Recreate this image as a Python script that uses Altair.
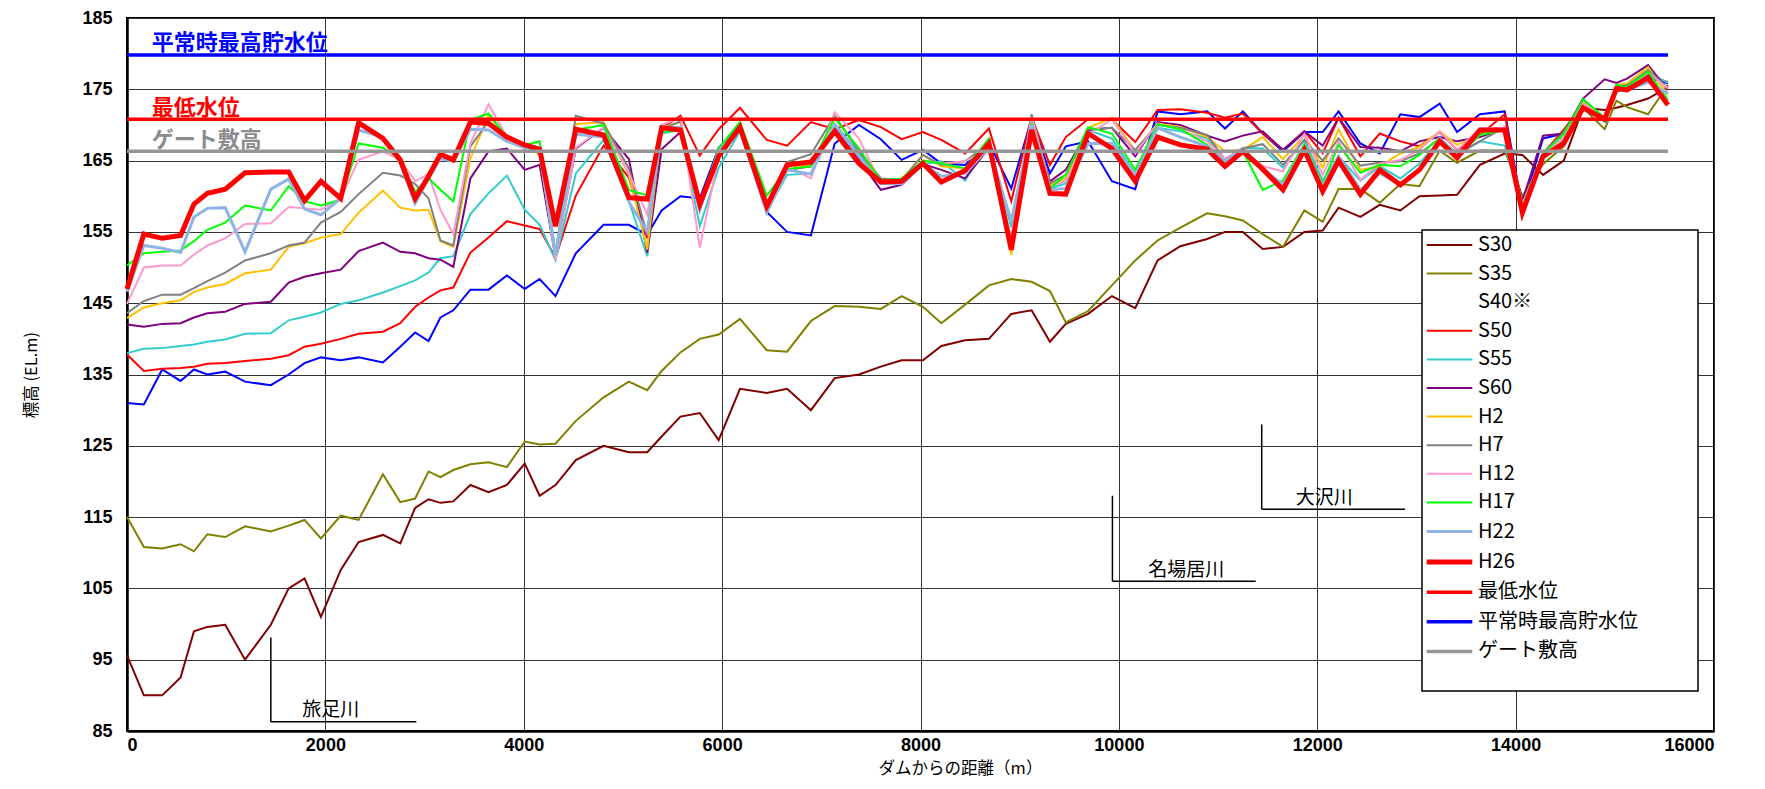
import altair as alt
import pandas as pd

FONT = "Noto Sans CJK JP"
NUM_FONT = "Liberation Sans"

# distance from the dam (m)
DIST = [0, 170, 355, 540, 675, 810, 990, 1190, 1450, 1630,
        1790, 1955, 2155, 2335, 2580, 2755, 2905, 3040, 3160, 3290,
        3462, 3645, 3830, 4010, 4160, 4320, 4525, 4805, 5060, 5245,
        5390, 5580, 5775, 5965, 6180, 6450, 6655, 6895, 7135, 7380,
        7600, 7810, 8025, 8210, 8450, 8690, 8915, 9120, 9305, 9465,
        9690, 9930, 10165, 10390, 10620, 10890, 11070, 11250, 11450, 11655,
        11870, 12055, 12215, 12435, 12630, 12838, 13030, 13235, 13410, 13640,
        13890, 14068, 14276, 14485, 14680, 14898, 15016, 15123, 15335, 15536]

S30 = [95.6, 90.0, 90.0, 92.5, 99.0, 99.6, 99.9, 95.0, 99.9, 105.0,
       106.4, 101.0, 107.6, 111.5, 112.5, 111.3, 116.3, 117.5, 117.0, 117.2,
       119.5, 118.5, 119.5, 122.5, 118.0, 119.5, 123.0, 125.0, 124.1, 124.1,
       126.3, 129.1, 129.6, 125.8, 133.0, 132.4, 133.0, 130.0, 134.5, 135.0,
       136.1, 137.0, 137.0, 139.0, 139.8, 140.0, 143.5, 144.0, 139.6, 142.1,
       143.5, 146.0, 144.3, 151.0, 153.0, 154.0, 155.0, 155.0, 152.6, 152.9,
       155.0, 155.2, 158.4, 157.1, 158.8, 158.0, 160.0, 160.1, 160.2, 164.4,
       166.0, 165.8, 163.0, 165.0, 172.4, 172.1, 172.4, 172.8, 173.7, 175.3]
S35 = [115.0, 110.8, 110.6, 111.2, 110.2, 112.6, 112.2, 113.7, 113.0, 113.8,
       114.6, 112.0, 115.2, 114.6, 121.0, 117.1, 117.6, 121.4, 120.6, 121.6,
       122.4, 122.7, 122.0, 125.6, 125.2, 125.3, 128.5, 131.8, 134.0, 132.8,
       135.5, 138.1, 140.0, 140.6, 142.8, 138.4, 138.2, 142.5, 144.6, 144.5,
       144.2, 146.0, 144.5, 142.2, 144.8, 147.5, 148.4, 148.0, 146.7, 142.3,
       143.9, 147.5, 151.0, 153.8, 155.6, 157.6, 157.2, 156.6, 154.7, 152.9,
       158.0, 156.4, 161.0, 161.0, 159.1, 161.7, 161.4, 166.4, 164.7, 166.4,
       166.4, 160.0, 164.5, 167.0, 172.4, 169.4, 173.4, 172.5, 171.5, 175.6]
S40 = [131.0, 130.8, 135.7, 134.1, 135.7, 135.0, 135.4, 134.0, 133.5, 135.0,
       136.6, 137.4, 137.0, 137.4, 136.7, 138.9, 140.9, 139.7, 143.0, 144.0,
       146.9, 146.9, 148.9, 147.0, 148.4, 146.0, 152.0, 156.0, 156.0, 154.6,
       158.0, 160.0, 159.7, 166.8, 169.7, 157.8, 155.0, 154.5, 167.4, 170.0,
       168.0, 165.1, 166.5, 164.6, 164.4, 167.5, 161.1, 170.9, 163.2, 167.0,
       167.7, 162.1, 161.0, 171.9, 171.5, 171.9, 169.5, 171.9, 168.8, 166.3,
       169.0, 169.0, 171.9, 167.4, 166.0, 171.5, 171.1, 173.0, 169.0, 171.5,
       171.9, 158.3, 168.1, 168.8, 173.6, 170.9, 175.3, 175.6, 176.7, 175.8]
S50 = [137.8, 135.5, 135.8, 135.9, 136.1, 136.5, 136.6, 136.9, 137.2, 137.7,
       138.9, 139.3, 140.0, 140.7, 141.0, 142.2, 144.5, 145.8, 146.8, 147.2,
       152.1, 154.2, 156.5, 155.9, 155.4, 151.4, 160.1, 167.1, 162.6, 154.1,
       169.5, 171.3, 165.7, 169.4, 172.4, 167.9, 167.1, 170.4, 169.4, 170.7,
       169.7, 168.0, 169.0, 167.9, 166.0, 169.5, 159.3, 171.1, 164.4, 168.3,
       170.8, 170.8, 167.6, 172.1, 172.2, 171.7, 171.0, 171.6, 168.8, 166.5,
       169.1, 166.0, 171.0, 165.6, 168.8, 167.7, 167.0, 169.0, 166.5, 168.6,
       171.5, 157.9, 166.0, 169.3, 172.9, 171.0, 175.1, 175.3, 177.0, 176.0]
S55 = [138.0, 138.6, 138.7, 139.0, 139.2, 139.6, 139.9, 140.7, 140.8, 142.6,
       143.1, 143.7, 144.9, 145.4, 146.5, 147.4, 148.2, 149.3, 151.3, 151.6,
       157.5, 160.4, 162.9, 158.1, 156.0, 151.0, 163.2, 167.9, 159.3, 151.6,
       168.8, 169.3, 155.8, 164.0, 169.1, 157.9, 163.0, 163.2, 170.2, 166.0,
       162.2, 162.3, 164.5, 164.9, 162.2, 167.6, 155.6, 170.7, 161.1, 161.8,
       169.3, 168.1, 163.2, 169.6, 169.1, 168.1, 165.1, 166.8, 166.7, 164.0,
       167.9, 162.2, 165.6, 162.2, 164.2, 162.5, 164.6, 167.9, 165.8, 167.7,
       167.1, 159.0, 165.2, 167.9, 173.0, 170.4, 174.6, 175.1, 177.3, 175.9]
S60 = [142.0, 141.7, 142.1, 142.2, 143.0, 143.6, 143.8, 144.9, 145.2, 147.9,
       148.7, 149.2, 149.7, 152.3, 153.5, 152.2, 152.0, 151.3, 151.1, 150.1,
       162.5, 166.3, 166.7, 163.7, 164.4, 151.4, 166.7, 169.6, 165.2, 152.1,
       166.6, 169.0, 159.0, 166.3, 169.6, 158.3, 163.7, 164.2, 169.6, 165.1,
       160.9, 161.6, 164.5, 163.7, 162.5, 166.8, 153.7, 170.4, 162.1, 163.7,
       169.3, 169.6, 165.6, 170.4, 170.0, 168.5, 167.7, 168.5, 169.1, 166.5,
       169.1, 167.1, 171.0, 166.9, 166.8, 166.3, 167.7, 168.3, 167.7, 168.3,
       169.5, 159.3, 168.5, 168.8, 173.7, 176.4, 175.9, 176.5, 178.4, 174.9]
H2 = [142.9, 144.4, 145.0, 145.4, 146.6, 147.2, 147.7, 149.2, 149.7, 152.9,
      153.4, 154.2, 154.7, 157.7, 160.8, 158.4, 158.0, 158.1, 153.7, 152.9,
      165.3, 171.3, 168.1, 167.2, 165.8, 151.8, 170.1, 170.4, 163.0, 152.5,
      169.6, 170.4, 158.6, 166.3, 170.0, 158.1, 164.2, 164.3, 171.0, 166.5,
      162.0, 162.3, 165.8, 164.2, 163.9, 167.2, 151.8, 170.7, 161.6, 162.5,
      169.6, 171.0, 166.3, 170.2, 169.7, 168.3, 166.3, 166.5, 168.3, 165.2,
      168.6, 164.0, 169.4, 163.7, 164.2, 166.0, 166.9, 169.1, 167.2, 168.6,
      169.6, 158.6, 165.8, 168.3, 173.2, 171.0, 175.6, 175.8, 178.1, 174.2]
H7 = [143.6, 145.3, 146.2, 146.2, 147.1, 148.1, 149.3, 151.0, 152.0, 153.1,
      153.5, 156.3, 157.8, 160.3, 163.3, 162.9, 161.7, 159.7, 153.8, 153.1,
      167.0, 170.5, 168.5, 167.3, 166.0, 151.8, 171.3, 170.2, 163.9, 154.6,
      169.4, 170.5, 158.8, 166.7, 170.1, 158.1, 164.8, 165.9, 171.3, 166.3,
      162.5, 162.3, 165.8, 164.4, 164.9, 167.4, 153.7, 171.5, 161.8, 163.0,
      169.4, 169.6, 166.5, 170.0, 169.6, 168.6, 165.1, 166.7, 167.3, 164.4,
      167.9, 165.0, 168.1, 164.3, 164.7, 164.9, 166.0, 168.1, 166.0, 167.7,
      169.7, 158.9, 166.0, 169.0, 173.0, 170.8, 175.1, 175.5, 177.7, 175.1]
H12 = [144.9, 150.0, 150.3, 150.3, 151.8, 153.1, 154.1, 156.1, 156.2, 158.5,
       158.3, 158.1, 159.7, 165.1, 166.3, 165.1, 162.1, 163.1, 158.1, 154.7,
       167.4, 172.9, 168.3, 167.2, 166.5, 151.0, 166.8, 169.7, 163.2, 157.4,
       170.0, 171.0, 152.8, 165.6, 170.0, 157.9, 164.2, 162.5, 171.8, 168.1,
       161.8, 161.7, 165.0, 164.6, 164.9, 166.7, 154.2, 171.1, 161.4, 162.1,
       168.6, 170.8, 166.0, 170.2, 169.4, 167.7, 165.3, 166.6, 164.2, 163.5,
       168.7, 163.0, 167.6, 162.3, 164.6, 165.1, 166.5, 169.1, 166.5, 169.5,
       169.6, 158.9, 165.8, 168.3, 173.0, 170.9, 174.9, 175.2, 177.4, 175.1]
H17 = [150.3, 152.0, 152.2, 152.4, 153.7, 155.3, 156.3, 158.7, 158.0, 161.4,
       159.3, 158.7, 159.5, 167.4, 166.8, 165.3, 160.6, 162.5, 160.9, 159.3,
       170.7, 171.6, 168.3, 167.2, 167.7, 151.9, 169.3, 170.0, 160.9, 160.1,
       169.0, 169.3, 158.6, 166.7, 170.4, 160.1, 163.8, 164.2, 171.0, 166.7,
       162.2, 162.5, 165.0, 164.6, 163.9, 168.1, 153.2, 170.3, 161.1, 163.0,
       169.7, 168.8, 163.7, 170.1, 169.4, 167.2, 164.9, 166.3, 160.9, 162.2,
       167.3, 161.8, 167.2, 163.3, 164.4, 164.2, 165.8, 168.2, 165.6, 168.6,
       169.3, 158.6, 166.0, 168.7, 173.6, 171.0, 175.6, 175.3, 177.5, 173.5]
H22 = [146.6, 153.1, 152.7, 152.1, 157.1, 158.3, 158.4, 152.2, 161.0, 162.4,
       158.2, 157.4, 159.7, 169.3, 168.3, 164.6, 159.0, 162.5, 165.3, 164.9,
       169.4, 169.3, 167.7, 166.8, 166.5, 151.8, 168.7, 168.3, 159.2, 155.0,
       169.7, 169.6, 158.1, 166.3, 169.4, 157.7, 163.7, 163.1, 170.0, 165.6,
       161.8, 161.8, 164.5, 162.8, 163.2, 166.8, 156.5, 170.0, 160.9, 161.1,
       167.4, 167.4, 163.0, 169.6, 168.3, 167.0, 164.9, 166.7, 163.9, 161.6,
       166.9, 161.4, 165.6, 160.9, 163.2, 161.8, 163.7, 168.1, 165.8, 169.3,
       169.3, 158.3, 165.6, 167.7, 172.5, 170.7, 174.9, 174.9, 176.0, 174.4]
H26 = [147.0, 154.7, 154.1, 154.5, 158.9, 160.4, 161.0, 163.3, 163.4, 163.4,
       159.4, 162.1, 159.7, 170.3, 168.1, 165.1, 159.7, 162.8, 165.9, 165.1,
       170.4, 170.2, 168.3, 167.2, 166.6, 155.8, 169.4, 168.6, 159.8, 159.6,
       169.6, 169.3, 158.9, 165.6, 169.7, 158.6, 164.4, 164.8, 169.1, 164.6,
       162.0, 162.1, 164.6, 162.0, 163.6, 167.4, 152.5, 169.3, 160.4, 160.3,
       168.8, 166.7, 162.1, 168.3, 167.2, 166.6, 164.2, 166.3, 163.8, 160.9,
       166.5, 160.7, 165.0, 160.3, 163.7, 161.6, 163.7, 167.7, 165.4, 169.3,
       169.3, 157.7, 165.6, 167.4, 172.4, 170.8, 175.1, 174.9, 176.6, 172.8]

# reference levels
REF_NAMES = ["最低水位", "平常時最高貯水位", "ゲート敷高"]
REF_LEVELS = [170.8, 179.8, 166.3]
REF_X = [0, 15536]
REF_LABEL_Y = [172.4, 181.5, 167.9]
REF_LABEL_X = [250, 250, 250]
REF_LABEL_COLORS = ["#FF0000", "#0000FF", "#8C8C8C"]

# tributary markers
RIVERS = ["旅足川", "名場居川", "大沢川"]
RIVER_X = [1450, 9935, 11440]
RIVER_X_END = [2917, 11380, 12885]
RIVER_TOP = [98.1, 118.0, 128.0]
RIVER_BOTTOM = [86.3, 106.0, 116.1]
RIVER_LABEL_X = [2055, 10680, 12070]
RIVER_LABEL_Y = [88.0, 107.6, 117.7]

LEGEND_DOMAIN = ["S30", "S35", "S40※", "S50", "S55", "S60", "H2", "H7", "H12",
                 "H17", "H22", "H26", "最低水位", "平常時最高貯水位", "ゲート敷高"]
LEGEND_COLORS = ["#800000", "#808000", "#FFFFFF", "#FF0000", "#33CCCC", "#800080",
                 "#FFC000", "#808080", "#FF99CC", "#00FF00", "#8EB4E3", "#FF0000",
                 "#FF0000", "#0000FF", "#969696"]
LEGEND_WIDTHS = [2, 2, 2, 2, 2, 2, 2, 2, 2, 2, 3, 5, 3.5, 3.5, 3.5]

thin = {"S30": S30, "S35": S35, "S50": S50, "S55": S55, "S60": S60,
        "H2": H2, "H7": H7, "H12": H12, "H17": H17, "H22": H22}
rows = []
for name, vals in thin.items():
    for d, v in zip(DIST, vals):
        rows.append({"series": name, "dist": d, "elev": v})
thin_df = pd.DataFrame(rows)
s40_df = pd.DataFrame({"dist": DIST, "elev": S40})
h26_df = pd.DataFrame({"series": "H26", "dist": DIST, "elev": H26})
ref_rows = []
for n, lv in zip(REF_NAMES, REF_LEVELS):
    for xx in REF_X:
        ref_rows.append({"series": n, "dist": xx, "elev": lv})
ref_df = pd.DataFrame(ref_rows)
ref_lab_df = pd.DataFrame({"label": REF_NAMES, "dist": REF_LABEL_X,
                           "elev": REF_LABEL_Y, "color": REF_LABEL_COLORS})
river_df = pd.DataFrame({"name": RIVERS, "x": RIVER_X, "x2": RIVER_X_END,
                         "top": RIVER_TOP, "bottom": RIVER_BOTTOM,
                         "lx": RIVER_LABEL_X, "ly": RIVER_LABEL_Y})

xscale = alt.Scale(domain=[0, 16000], nice=False, zero=False)
yscale = alt.Scale(domain=[85, 185], nice=False, zero=False)
X = alt.X("dist:Q", scale=xscale,
          axis=alt.Axis(values=list(range(0, 16001, 2000)), format="d",
                        title="ダムからの距離（m）"))
Y = alt.Y("elev:Q", scale=yscale,
          axis=alt.Axis(values=list(range(85, 186, 10)), title="標高 (EL.m)"))

# blank (non-trimmed) spacer used as the legend's bottom title to give the box its width
LEG_TITLE = "\u2800" * 19
legend = alt.Legend(title=LEG_TITLE)
color = alt.Color("series:N", scale=alt.Scale(domain=LEGEND_DOMAIN, range=LEGEND_COLORS),
                  legend=legend)
width = alt.StrokeWidth("series:N",
                        scale=alt.Scale(type="ordinal", domain=LEGEND_DOMAIN, range=LEGEND_WIDTHS),
                        legend=legend)

s40_layer = alt.Chart(s40_df).mark_line(color="#0000FF", strokeWidth=2).encode(
    x=X, y=Y)
thin_layer = alt.Chart(thin_df).mark_line().encode(
    x=X, y=Y, color=color, strokeWidth=width, detail="series:N")
h26_layer = alt.Chart(h26_df).mark_line().encode(
    x=X, y=Y, color=color, strokeWidth=width)
ref_layer = alt.Chart(ref_df).mark_line().encode(
    x=X, y=Y, color=color, strokeWidth=width, detail="series:N")
ref_text = alt.Chart(ref_lab_df).mark_text(
    align="left", baseline="middle", font=FONT, fontSize=22, fontWeight="bold").encode(
    x="dist:Q", y="elev:Q", text="label:N", color=alt.Color("color:N", scale=None))
river_v = alt.Chart(river_df).mark_rule(color="black", strokeWidth=1.5).encode(
    x="x:Q", y="top:Q", y2="bottom:Q")
river_h = alt.Chart(river_df).mark_rule(color="black", strokeWidth=1.5).encode(
    x="x:Q", x2="x2:Q", y="bottom:Q")
river_text = alt.Chart(river_df).mark_text(
    align="center", baseline="middle", font=FONT, fontSize=19, color="black").encode(
    x="lx:Q", y="ly:Q", text="name:N")

chart = alt.layer(
    s40_layer, thin_layer, h26_layer, ref_layer, ref_text, river_v, river_h, river_text
).properties(
    width=1587, height=713,
    autosize=alt.AutoSizeParams(type="none"),
    padding={"left": 119, "top": 10, "right": 43, "bottom": 50},
    background="white",
).configure_view(
    stroke="black", strokeWidth=2
).configure_axis(
    grid=True, gridColor="#333333", gridWidth=1,
    domainColor="black", domainWidth=2.5,
    ticks=False,
    labelFont=NUM_FONT, labelFontSize=18, labelFontWeight="bold", labelColor="black",
    titleFont=FONT, titleFontSize=16.5, titleColor="black", titleFontWeight="normal",
).configure_axisY(
    labelPadding=15, titlePadding=42
).configure_axisX(
    labelPadding=5, titleX=833, titleY=37, titleBaseline="middle", titleAlign="center"
).configure_legend(
    orient="none", legendX=1295, legendY=212,
    fillColor="white", strokeColor="black", strokeWidth=1.5,
    padding=4, labelFont=FONT, labelFontSize=20, labelColor="black",
    symbolType="M-2.28,0H2.28", symbolSize=400, rowPadding=7.6,
    labelOffset=16, symbolOffset=11, labelLimit=400,
    titleOrient="bottom", titleFont="DejaVu Sans", titleFontSize=18, titleLimit=400,
    titlePadding=8, titleColor="white",
)

chart.save("out.html", embed_options={"renderer": "svg", "actions": False})
